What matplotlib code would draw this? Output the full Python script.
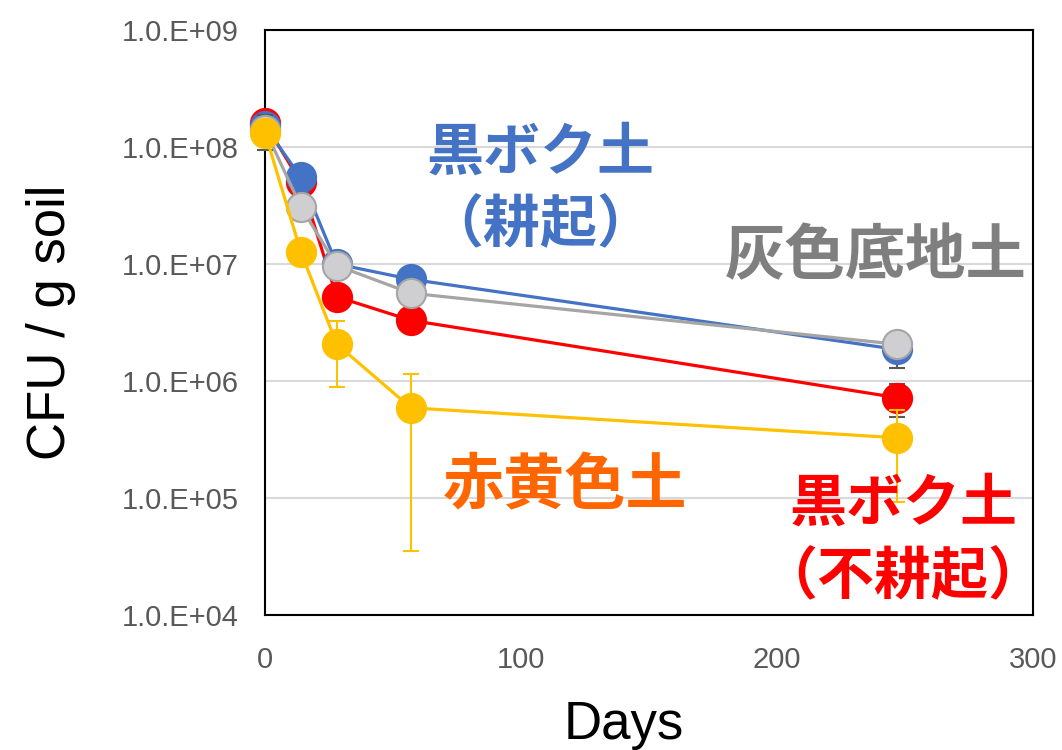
import matplotlib
matplotlib.use("Agg")
import matplotlib.pyplot as plt
from matplotlib.ticker import FixedLocator, FixedFormatter, NullLocator

plt.rcParams['font.family'] = ['Liberation Sans', 'DejaVu Sans']

# Sampling days
days = [0, 14, 28, 57, 247]

# CFU per g soil for each soil type
andosol_tilled = [1.50e8, 5.5e7, 1.00e7, 7.4e6, 1.86e6]      # 黒ボク土（耕起）
andosol_tilled_err = [0, 0, 0, 0, 5.6e5]
andosol_notill = [1.59e8, 5.0e7, 5.25e6, 3.3e6, 7.2e5]       # 黒ボク土（不耕起）
andosol_notill_err = [0, 0, 0, 0, 2.3e5]
gray_lowland = [1.41e8, 3.1e7, 9.7e6, 5.63e6, 2.06e6]        # 灰色底地土
gray_lowland_err = [4.7e7, 0, 0, 0, 0]
red_yellow = [1.33e8, 1.27e7, 2.07e6, 5.9e5, 3.27e5]         # 赤黄色土
red_yellow_err = [0, 0, 1.18e6, 5.55e5, 2.34e5]

ytick_vals = [1e4, 1e5, 1e6, 1e7, 1e8, 1e9]
ytick_labels = ["1.0.E+04", "1.0.E+05", "1.0.E+06", "1.0.E+07", "1.0.E+08", "1.0.E+09"]
xtick_vals = [0, 100, 200, 300]

fig = plt.figure(figsize=(10.62, 7.5), dpi=100)
ax = fig.add_axes([0.2495, 0.18, 0.9727 - 0.2495, 0.96 - 0.18])

BLUE = "#4472C4"
RED = "#FF0000"
GRAY = "#A5A5A5"
GRAY_FACE = "#CFCFD1"
YELLOW = "#FFC000"
ERR_DARK = "#595959"

ms = 21
lw = 2.3

def series(y, err, color, face, edge, ecolor, z):
    cont = ax.errorbar(days, y, yerr=err, color=color, lw=lw, marker='o', ms=ms,
                       markerfacecolor=face, markeredgecolor=edge, markeredgewidth=1.5,
                       ecolor=ecolor, elinewidth=1.5, capsize=6, capthick=1.5,
                       zorder=z)
    for art in cont.get_children():
        art.set_clip_on(False)

series(andosol_notill, andosol_notill_err, RED, RED, RED, ERR_DARK, 3)
series(andosol_tilled, andosol_tilled_err, BLUE, BLUE, BLUE, ERR_DARK, 4)
series(gray_lowland, gray_lowland_err, GRAY, GRAY_FACE, GRAY, ERR_DARK, 5)
series(red_yellow, red_yellow_err, YELLOW, YELLOW, YELLOW, YELLOW, 6)

ax.set_yscale('log')
ax.set_ylim(1e4, 1e9)
ax.set_xlim(0, 300)
ax.yaxis.set_major_locator(FixedLocator(ytick_vals))
ax.yaxis.set_major_formatter(FixedFormatter(ytick_labels))
ax.yaxis.set_minor_locator(NullLocator())
ax.set_xticks(xtick_vals)
ax.tick_params(axis='both', length=0, labelsize=21, colors="#595959")
ax.tick_params(axis='y', pad=19)
ax.tick_params(axis='x', pad=22)
ax.grid(axis='y', color="#D9D9D9", lw=1.5, zorder=0)
ax.set_axisbelow(True)
for sp in ax.spines.values():
    sp.set_color("black")
    sp.set_linewidth(1.5)

ax.set_xlabel("Days", fontsize=38, labelpad=19)
ax.xaxis.label.set_x(0.467)
ax.set_ylabel("CFU / g soil", fontsize=38, labelpad=33)

jp = ['Noto Sans CJK JP', 'DejaVu Sans']
labels = [
    ("黒ボク土", 0.359, 0.790, 41, BLUE),
    ("（耕起）", 0.359, 0.667, 41, BLUE),
    ("灰色底地土", 0.795, 0.612, 43.5, "#7F7F7F"),
    ("赤黄色土", 0.391, 0.219, 44, "#FF6600"),
    ("黒ボク土", 0.831, 0.191, 41, RED),
    ("（不耕起）", 0.831, 0.065, 41, RED),
]
for txt, x, y, size, col in labels:
    ax.text(x, y, txt, transform=ax.transAxes, fontsize=size, color=col,
            fontweight='bold', family=jp, ha='center', va='center', zorder=7)

fig.savefig("out.png", dpi=100)
